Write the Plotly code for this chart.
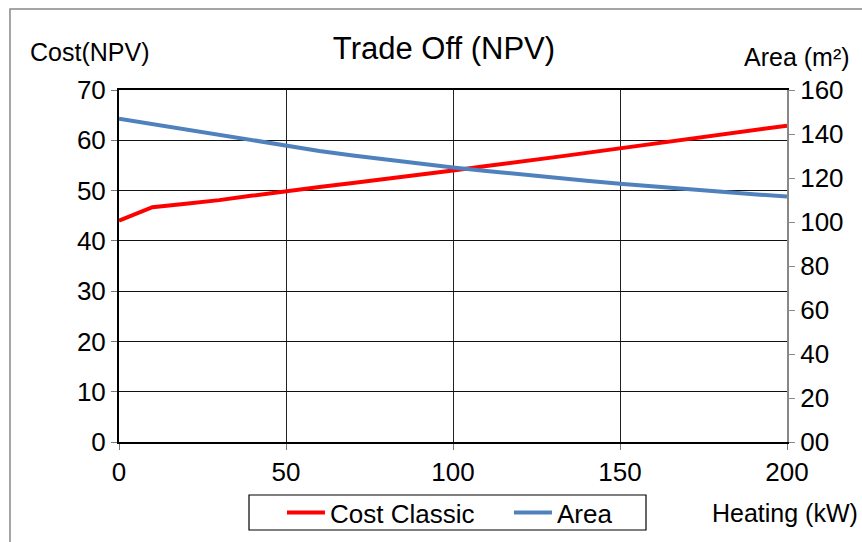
import plotly.graph_objects as go

heating = [0, 10, 20, 30, 40, 50, 60, 70, 80, 90, 100, 110, 120, 130, 140, 150, 160, 170, 180, 190, 200]
cost_classic = [44.0, 46.7, 47.4, 48.1, 49.0, 49.9, 50.7, 51.5, 52.3, 53.2, 54.0, 54.9, 55.7, 56.6, 57.5, 58.4, 59.3, 60.2, 61.1, 62.0, 62.9]
area = [147.0, 144.5, 142.0, 139.5, 137.0, 134.5, 132.3, 130.2, 128.3, 126.5, 124.8, 123.2, 121.6, 120.1, 118.7, 117.4, 116.1, 114.9, 113.7, 112.6, 111.6]

left_ticks = [0, 10, 20, 30, 40, 50, 60, 70]
right_ticks = [0, 20, 40, 60, 80, 100, 120, 140, 160]
right_labels = ["00", "20", "40", "60", "80", "100", "120", "140", "160"]
x_ticks = [0, 50, 100, 150, 200]

FONT = "Liberation Sans, Arial, sans-serif"
FS = 25
TFS = 26

fig = go.Figure()
fig.add_trace(go.Scatter(x=heating, y=cost_classic, name="Cost Classic", mode="lines",
                         line=dict(color="#FF0000", width=4), yaxis="y"))
fig.add_trace(go.Scatter(x=heating, y=area, name="Area", mode="lines",
                         line=dict(color="#4F81BD", width=4), yaxis="y2"))

fig.update_layout(
    width=862, height=542,
    margin=dict(l=119, r=75, t=90, b=100, autoexpand=False),
    paper_bgcolor="white", plot_bgcolor="white",
    font=dict(family=FONT, size=FS, color="black"),
    title=dict(text="Trade Off (NPV)", x=0.4865, xref="paper", xanchor="center", y=0.9114, yanchor="middle",
               font=dict(size=31, family=FONT)),
    xaxis=dict(range=[0, 200], tickvals=x_ticks, showgrid=True, gridcolor="#222", gridwidth=1,
               zeroline=False, showline=True, linecolor="black", linewidth=2, mirror=True,
               ticks="outside", ticklen=6, tickcolor="#777", tickfont=dict(size=TFS)),
    yaxis=dict(range=[0, 70], tickvals=left_ticks, showgrid=True, gridcolor="#111", gridwidth=1,
               zeroline=False, showline=True, linecolor="black", linewidth=2,
               ticks="outside", ticklen=6, tickcolor="#777", tickfont=dict(size=TFS)),
    yaxis2=dict(range=[0, 160], tickvals=right_ticks, ticktext=right_labels, overlaying="y",
                side="right", showgrid=False, zeroline=False, showline=True, linecolor="#888",
                linewidth=2, ticks="outside", ticklen=6, tickcolor="#888", tickfont=dict(size=TFS)),
    showlegend=True,
    legend=dict(orientation="h", xref="container", yref="container", x=0.3271, xanchor="left",
                y=0.0544, yanchor="middle", entrywidth=174, entrywidthmode="pixels", itemwidth=38,
                borderwidth=0, bgcolor="rgba(0,0,0,0)", font=dict(size=TFS)),
    shapes=[
        dict(type="rect", xref="paper", yref="paper", x0=-0.1632, x1=1.2, y0=-0.5, y1=1.23,
             line=dict(color="#888", width=1.5), layer="below"),
        dict(type="rect", xref="paper", yref="paper", x0=(249 - 119) / 668, x1=(646 - 119) / 668,
             y0=(442 - 530) / 352, y1=(442 - 495) / 352,
             line=dict(color="black", width=1.2), layer="below"),
    ],
    annotations=[
        dict(text="Cost(NPV)", xref="paper", yref="paper", x=-0.1362, y=1.108, xanchor="left",
             yanchor="middle", showarrow=False, font=dict(size=FS)),
        dict(text="Area (m²)", xref="paper", yref="paper", x=1.0973, y=1.094, xanchor="right",
             yanchor="middle", showarrow=False, font=dict(size=FS)),
        dict(text="Heating (kW)", xref="paper", yref="paper", x=1.1093, y=-0.2017, xanchor="right",
             yanchor="middle", showarrow=False, font=dict(size=FS)),
    ],
)

fig.write_html("out.html", config={"displayModeBar": False},
               post_script="document.body.style.margin='0';document.body.style.overflow='hidden';")
